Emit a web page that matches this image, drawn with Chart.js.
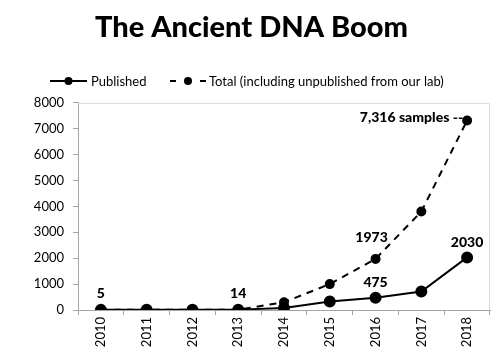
<!DOCTYPE html>
<html>
<head>
<meta charset="utf-8">
<script src="https://cdn.jsdelivr.net/npm/chart.js@4/dist/chart.umd.min.js"></script>
<style>
  html, body { margin: 0; padding: 0; background: #fff; }
  #wrap { width: 503px; height: 363px; }
</style>
</head>
<body>
<div id="wrap"><canvas id="boomChart" width="503" height="363"></canvas></div>
<script>
// data
const years = ["2010", "2011", "2012", "2013", "2014", "2015", "2016", "2017", "2018"];
const published = [5, 7, 10, 14, 80, 330, 475, 710, 2030];
const total = [5, 7, 10, 14, 300, 1000, 1973, 3800, 7316];
const yTicks = [0, 1000, 2000, 3000, 4000, 5000, 6000, 7000, 8000];

const FONT = "Lato, 'Open Sans', sans-serif";

// legend drawn by hand so the line style shows next to the marker
const legendPlugin = {
  id: "lineLegend",
  afterDraw(chart) {
    const c = chart.ctx;
    const y = 81;
    c.save();
    c.strokeStyle = "#000";
    c.fillStyle = "#000";
    c.lineWidth = 2;
    // Published
    c.beginPath(); c.moveTo(50, y); c.lineTo(87, y); c.stroke();
    c.beginPath(); c.arc(68.5, y, 4, 0, Math.PI * 2); c.fill();
    // Total
    c.beginPath(); c.moveTo(170, y); c.lineTo(176, y); c.moveTo(200, y); c.lineTo(206, y); c.stroke();
    c.beginPath(); c.arc(188, y, 4, 0, Math.PI * 2); c.fill();
    c.font = "13px " + FONT;
    c.textBaseline = "middle";
    c.textAlign = "left";
    c.fillText("Published", 91, y + 1);
    c.fillText("Total (including unpublished from our lab)", 209, y + 1);
    c.restore();
  }
};

// frame on top / right plus value labels
const labelPlugin = {
  id: "valueLabels",
  beforeDatasetsDraw(chart) {
    const a = chart.chartArea, c = chart.ctx;
    c.save();
    c.strokeStyle = "#d9d9d9";
    c.lineWidth = 1;
    c.beginPath();
    c.moveTo(a.left, a.top + 0.5); c.lineTo(a.right - 0.5, a.top + 0.5); c.lineTo(a.right - 0.5, a.bottom);
    c.stroke();
    c.restore();
  },
  afterDatasetsDraw(chart) {
    const c = chart.ctx;
    const pub = chart.getDatasetMeta(0).data;
    const tot = chart.getDatasetMeta(1).data;
    c.save();
    c.fillStyle = "#000";
    c.font = "900 14px " + FONT;
    c.textBaseline = "middle";
    c.textAlign = "center";
    c.fillText(String(published[0]), pub[0].x, pub[0].y - 16);
    c.fillText(String(published[3]), pub[3].x, pub[3].y - 16);
    c.fillText(String(published[6]), pub[6].x, pub[6].y - 15);
    c.fillText(String(published[8]), pub[8].x, pub[8].y - 15);
    c.fillText(String(total[6]), tot[6].x - 4, tot[6].y - 21);
    c.textAlign = "right";
    c.fillText(total[8].toLocaleString("en-US") + " samples --", tot[8].x - 4, tot[8].y - 3);
    c.restore();
  }
};

new Chart(document.getElementById("boomChart").getContext("2d"), {
  type: "line",
  data: {
    labels: years,
    datasets: [{
      label: "Published",
      data: published,
      borderColor: "#000",
      backgroundColor: "#000",
      borderWidth: 2,
      pointRadius: 5,
      pointHoverRadius: 5,
      tension: 0
    }, {
      label: "Total (including unpublished from our lab)",
      data: total,
      borderColor: "#000",
      backgroundColor: "#000",
      borderWidth: 2,
      borderDash: [7, 6],
      pointRadius: 4,
      pointHoverRadius: 4,
      tension: 0
    }]
  },
  plugins: [legendPlugin, labelPlugin],
  options: {
    responsive: false,
    animation: false,
    layout: { padding: { left: 13, right: 13, top: 0, bottom: 0 } },
    plugins: {
      legend: { display: false },
      tooltip: { enabled: false },
      title: {
        display: true,
        text: "The Ancient DNA Boom",
        color: "#000",
        font: { family: FONT, size: 29, weight: "900", lineHeight: 1.2 },
        padding: { top: 10, bottom: 58 }
      }
    },
    scales: {
      x: {
        offset: true,
        afterFit(s) { s.height = 53; },
        grid: { offset: true, drawOnChartArea: false, drawTicks: true, tickLength: 5, color: "#a6a6a6" },
        border: { color: "#a6a6a6", width: 1 },
        ticks: { color: "#000", font: { family: FONT, size: 13 }, minRotation: 90, maxRotation: 90, padding: 2 }
      },
      y: {
        min: 0,
        max: 8000,
        afterFit(s) { s.width = 65; },
        afterBuildTicks(s) { s.ticks = yTicks.map(v => ({ value: v })); },
        grid: { drawOnChartArea: false, drawTicks: true, tickLength: 5, color: "#a6a6a6" },
        border: { color: "#a6a6a6", width: 1 },
        ticks: { color: "#000", font: { family: FONT, size: 13 }, padding: 9, callback: v => String(v) }
      }
    }
  }
});
</script>
</body>
</html>
